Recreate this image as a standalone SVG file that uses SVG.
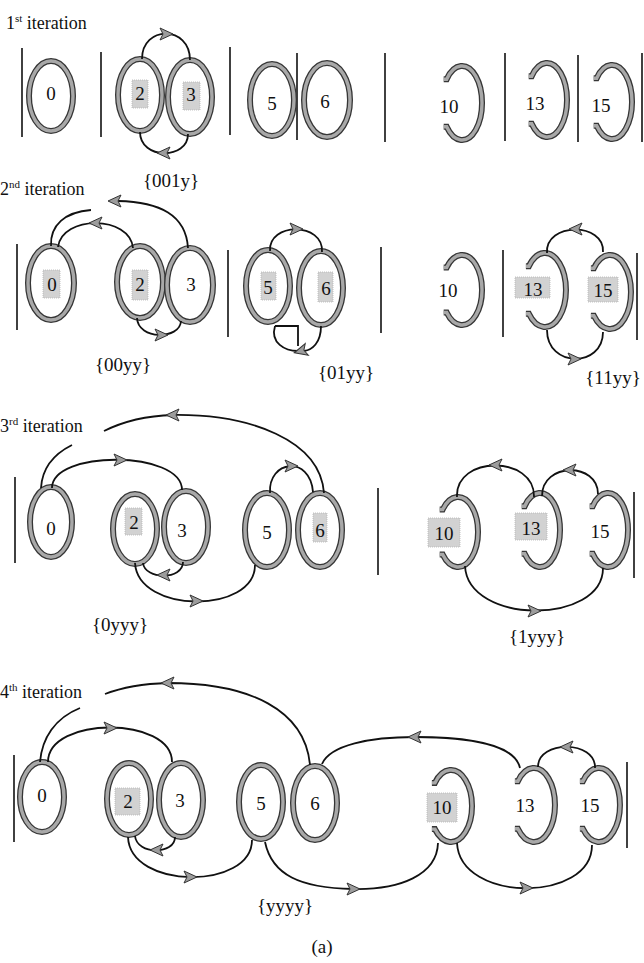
<svg xmlns="http://www.w3.org/2000/svg" xmlns:xlink="http://www.w3.org/1999/xlink" width="644" height="963" viewBox="0 0 644 963">
<style>
  text { font-family: Liberation Serif, Tinos, DejaVu Serif, serif; fill: #111; }
  .title { font-size: 18px; }
  .lab { font-size: 19px; text-anchor: middle; }
  .num { font-size: 19px; text-anchor: middle; }
  .ro { fill: none; stroke: #363636; stroke-width: 6; }
  .ri { fill: none; stroke: #a8a8a8; stroke-width: 3.4; }
  .box { fill: #d2d2d2; stroke: #b4b4b4; stroke-width: 0.8; stroke-dasharray: 1 1; }
  .bar { stroke: #111; stroke-width: 1.6; }
  .c { fill: none; stroke: #111; stroke-width: 1.8; }
</style>
<defs>
  <path id="ah" d="M7,0 L-6,-6 L-3,0 L-6,6 Z" fill="#9c9c9c" stroke="#333" stroke-width="1"/>
</defs>
<rect width="644" height="963" fill="#fff"/>

<!-- ===== 1st iteration ===== -->
<g id="row1">
  <text class="title" x="6" y="29">1<tspan font-size="11" dy="-7">st</tspan><tspan dy="7"> iteration</tspan></text>
  <g id="r1-bars">
    <line class="bar" x1="22" y1="48" x2="22" y2="137"/>
    <line class="bar" x1="101" y1="52" x2="101" y2="137"/>
    <line class="bar" x1="230" y1="47" x2="230" y2="135"/>
    <line class="bar" x1="297" y1="53" x2="297" y2="140"/>
    <line class="bar" x1="385" y1="53" x2="385" y2="142"/>
    <line class="bar" x1="505" y1="53" x2="505" y2="141"/>
    <line class="bar" x1="578" y1="55" x2="578" y2="142"/>
    <line class="bar" x1="642" y1="53" x2="642" y2="142"/>
  </g>
  <g id="r1-n0"><ellipse class="ro" cx="51" cy="96" rx="22" ry="35"/><ellipse class="ri" cx="51" cy="96" rx="22" ry="35"/><text class="num" x="51" y="100">0</text></g>
  <g id="r1-n2"><ellipse class="ro" cx="140" cy="95" rx="22" ry="36"/><ellipse class="ri" cx="140" cy="95" rx="22" ry="36"/><rect class="box" x="132" y="80" width="16" height="28"/><text class="num" x="140" y="100">2</text></g>
  <g id="r1-n3"><ellipse class="ro" cx="190" cy="97" rx="22" ry="37"/><ellipse class="ri" cx="190" cy="97" rx="22" ry="37"/><rect class="box" x="183" y="82" width="17" height="28"/><text class="num" x="191" y="101">3</text></g>
  <g id="r1-n5"><ellipse class="ro" cx="272" cy="100" rx="22" ry="36"/><ellipse class="ri" cx="272" cy="100" rx="22" ry="36"/><text class="num" x="272" y="110">5</text></g>
  <g id="r1-n6"><ellipse class="ro" cx="327" cy="100" rx="23" ry="37"/><ellipse class="ri" cx="327" cy="100" rx="23" ry="37"/><text class="num" x="325" y="108">6</text></g>
  <g id="r1-n10"><path class="ro" d="M443.7,79.2 L446.7,79.2 A20,37 0 1,1 446.7,126.8 L443.7,126.8"/><path class="ri" d="M443.7,79.2 L446.7,79.2 A20,37 0 1,1 446.7,126.8 L443.7,126.8"/><text class="num" x="449" y="113">10</text></g>
  <g id="r1-n13"><path class="ro" d="M528.7,76.2 L531.7,76.2 A20,37 0 1,1 531.7,123.8 L528.7,123.8"/><path class="ri" d="M528.7,76.2 L531.7,76.2 A20,37 0 1,1 531.7,123.8 L528.7,123.8"/><text class="num" x="535" y="110">13</text></g>
  <g id="r1-n15"><path class="ro" d="M593.7,78.2 L596.7,78.2 A20,37 0 1,1 596.7,125.8 L593.7,125.8"/><path class="ri" d="M593.7,78.2 L596.7,78.2 A20,37 0 1,1 596.7,125.8 L593.7,125.8"/><text class="num" x="601" y="112">15</text></g>
  <g id="r1-edges">
    <path class="c" d="M142,59 C142,25 190,25 190,60"/>
    <use xlink:href="#ah" href="#ah" transform="translate(166,34)"/>
    <path class="c" d="M140,132 C140,160 188,160 188,134"/>
    <use xlink:href="#ah" href="#ah" transform="translate(164,153) rotate(180)"/>
  </g>
  <text class="lab" x="171" y="187">{001y}</text>
</g>

<!-- ===== 2nd iteration ===== -->
<g id="row2">
  <text class="title" x="0" y="195">2<tspan font-size="11" dy="-7">nd</tspan><tspan dy="7"> iteration</tspan></text>
  <g id="r2-bars">
    <line class="bar" x1="17" y1="244" x2="17" y2="330"/>
    <line class="bar" x1="228" y1="250" x2="228" y2="337"/>
    <line class="bar" x1="381" y1="247" x2="381" y2="333"/>
    <line class="bar" x1="503" y1="250" x2="503" y2="337"/>
    <line class="bar" x1="637" y1="253" x2="637" y2="340"/>
  </g>
  <g id="r2-n0"><ellipse class="ro" cx="51" cy="283" rx="23" ry="37"/><ellipse class="ri" cx="51" cy="283" rx="23" ry="37"/><rect class="box" x="43" y="270" width="17" height="28"/><text class="num" x="52" y="291">0</text></g>
  <g id="r2-n2"><ellipse class="ro" cx="140" cy="282" rx="23" ry="36"/><ellipse class="ri" cx="140" cy="282" rx="23" ry="36"/><rect class="box" x="132" y="270" width="16" height="30"/><text class="num" x="140" y="291">2</text></g>
  <g id="r2-n3"><ellipse class="ro" cx="190" cy="285" rx="23" ry="37"/><ellipse class="ri" cx="190" cy="285" rx="23" ry="37"/><text class="num" x="191" y="291">3</text></g>
  <g id="r2-n5"><ellipse class="ro" cx="268" cy="286" rx="22" ry="36"/><ellipse class="ri" cx="268" cy="286" rx="22" ry="36"/><rect class="box" x="261" y="272" width="15" height="28"/><text class="num" x="268" y="294">5</text></g>
  <g id="r2-n6"><ellipse class="ro" cx="321" cy="288" rx="22" ry="37"/><ellipse class="ri" cx="321" cy="288" rx="22" ry="37"/><rect class="box" x="318" y="272" width="15" height="30"/><text class="num" x="326" y="295">6</text></g>
  <g id="r2-n10"><path class="ro" d="M443.7,267.5 L446.7,267.5 A20,35 0 1,1 446.7,312.5 L443.7,312.5"/><path class="ri" d="M443.7,267.5 L446.7,267.5 A20,35 0 1,1 446.7,312.5 L443.7,312.5"/><text class="num" x="448" y="297">10</text></g>
  <g id="r2-n13"><path class="ro" d="M525.9,266.2 L528.9,266.2 A21,37 0 1,1 528.9,313.8 L525.9,313.8"/><path class="ri" d="M525.9,266.2 L528.9,266.2 A21,37 0 1,1 528.9,313.8 L525.9,313.8"/><rect class="box" x="515" y="277" width="35" height="21"/><text class="num" x="533" y="296">13</text></g>
  <g id="r2-n15"><path class="ro" d="M590.9,268.2 L593.9,268.2 A21,37 0 1,1 593.9,315.8 L590.9,315.8"/><path class="ri" d="M590.9,268.2 L593.9,268.2 A21,37 0 1,1 593.9,315.8 L590.9,315.8"/><rect class="box" x="588" y="277" width="30" height="25"/><text class="num" x="603" y="297">15</text></g>
  <g id="r2-edges">
    <path class="c" d="M188,248 C186,215 160,202 118,201"/>
    <path class="c" d="M51,246 C50,225 65,212 91,210"/>
    <use xlink:href="#ah" href="#ah" transform="translate(115,201) rotate(180)"/>
    <path class="c" d="M133,248 C130,215 62,215 58,247"/>
    <use xlink:href="#ah" href="#ah" transform="translate(96,223) rotate(180)"/>
    <path class="c" d="M137,318 C138,340 180,340 181,321"/>
    <use xlink:href="#ah" href="#ah" transform="translate(161,335)"/>
    <path class="c" d="M270,251 C268,222 324,222 322,252"/>
    <use xlink:href="#ah" href="#ah" transform="translate(296,229)"/>
    <path class="c" d="M275,326 L298,326 L298,346"/>
    <path class="c" d="M275,326 C270,343 285,351 298,351"/>
    <path class="c" d="M321,326 C321,343 312,350 304,351"/>
    <use xlink:href="#ah" href="#ah" transform="translate(301,351) rotate(165)"/>
    <path class="c" d="M547,253 C545,222 605,222 603,252"/>
    <use xlink:href="#ah" href="#ah" transform="translate(576,229) rotate(180)"/>
    <path class="c" d="M547,330 C547,368 603,368 603,332"/>
    <use xlink:href="#ah" href="#ah" transform="translate(574,359)"/>
  </g>
  <text class="lab" x="123" y="371">{00yy}</text>
  <text class="lab" x="346" y="379">{01yy}</text>
  <text class="lab" x="613" y="384">{11yy}</text>
</g>

<!-- ===== 3rd iteration ===== -->
<g id="row3">
  <text class="title" x="0" y="432">3<tspan font-size="11" dy="-7">rd</tspan><tspan dy="7"> iteration</tspan></text>
  <g id="r3-bars">
    <line class="bar" x1="15" y1="477" x2="15" y2="563"/>
    <line class="bar" x1="378" y1="488" x2="378" y2="575"/>
    <line class="bar" x1="634" y1="492" x2="634" y2="578"/>
  </g>
  <g id="r3-n0"><ellipse class="ro" cx="51" cy="522" rx="21" ry="35"/><ellipse class="ri" cx="51" cy="522" rx="21" ry="35"/><text class="num" x="51" y="535">0</text></g>
  <g id="r3-n2"><ellipse class="ro" cx="135" cy="529" rx="22" ry="35"/><ellipse class="ri" cx="135" cy="529" rx="22" ry="35"/><rect class="box" x="125" y="508" width="17" height="27"/><text class="num" x="134" y="529">2</text></g>
  <g id="r3-n3"><ellipse class="ro" cx="186" cy="527" rx="22" ry="36"/><ellipse class="ri" cx="186" cy="527" rx="22" ry="36"/><text class="num" x="182" y="537">3</text></g>
  <g id="r3-n5"><ellipse class="ro" cx="267" cy="530" rx="22" ry="37"/><ellipse class="ri" cx="267" cy="530" rx="22" ry="37"/><text class="num" x="267" y="539">5</text></g>
  <g id="r3-n6"><ellipse class="ro" cx="320" cy="530" rx="22" ry="37"/><ellipse class="ri" cx="320" cy="530" rx="22" ry="37"/><rect class="box" x="313" y="513" width="14" height="29"/><text class="num" x="320" y="537">6</text></g>
  <g id="r3-n10"><path class="ro" d="M439.7,509.5 L442.7,509.5 A20,35 0 1,1 442.7,554.5 L439.7,554.5"/><path class="ri" d="M439.7,509.5 L442.7,509.5 A20,35 0 1,1 442.7,554.5 L439.7,554.5"/><rect class="box" x="428" y="518" width="32" height="29"/><text class="num" x="444" y="540">10</text></g>
  <g id="r3-n13"><path class="ro" d="M521.7,506.2 L524.7,506.2 A20,37 0 1,1 524.7,553.8 L521.7,553.8"/><path class="ri" d="M521.7,506.2 L524.7,506.2 A20,37 0 1,1 524.7,553.8 L521.7,553.8"/><rect class="box" x="515" y="513" width="32" height="27"/><text class="num" x="531" y="535">13</text></g>
  <g id="r3-n15"><path class="ro" d="M589.7,506.2 L592.7,506.2 A20,37 0 1,1 592.7,553.8 L589.7,553.8"/><path class="ri" d="M589.7,506.2 L592.7,506.2 A20,37 0 1,1 592.7,553.8 L589.7,553.8"/><text class="num" x="600" y="538">15</text></g>
  <g id="r3-edges">
    <path class="c" d="M324,493 C320,440 250,414 173,415 C140,416 118,424 104,431"/>
    <use xlink:href="#ah" href="#ah" transform="translate(173,415) rotate(180)"/>
    <path class="c" d="M72,445 C52,455 42,470 41,488"/>
    <path class="c" d="M52,488 C52,450 182,450 182,490"/>
    <use xlink:href="#ah" href="#ah" transform="translate(120,460)"/>
    <path class="c" d="M270,493 C268,460 310,455 313,492"/>
    <use xlink:href="#ah" href="#ah" transform="translate(291,466)"/>
    <path class="c" d="M143,563 C145,580 183,580 183,562"/>
    <use xlink:href="#ah" href="#ah" transform="translate(164,575) rotate(180)"/>
    <path class="c" d="M135,563 C138,614 255,614 255,565"/>
    <use xlink:href="#ah" href="#ah" transform="translate(196,601)"/>
    <path class="c" d="M457,497 C455,455 535,455 534,497"/>
    <use xlink:href="#ah" href="#ah" transform="translate(496,465) rotate(180)"/>
    <path class="c" d="M542,496 C542,462 598,462 598,494"/>
    <use xlink:href="#ah" href="#ah" transform="translate(570,470) rotate(180)"/>
    <path class="c" d="M465,566 C468,625 603,625 603,568"/>
    <use xlink:href="#ah" href="#ah" transform="translate(534,611)"/>
  </g>
  <text class="lab" x="120" y="631">{0yyy}</text>
  <text class="lab" x="537" y="643">{1yyy}</text>
</g>

<!-- ===== 4th iteration ===== -->
<g id="row4">
  <text class="title" x="0" y="698">4<tspan font-size="11" dy="-7">th</tspan><tspan dy="7"> iteration</tspan></text>
  <g id="r4-bars">
    <line class="bar" x1="14" y1="755" x2="14" y2="842"/>
    <line class="bar" x1="627" y1="762" x2="627" y2="848"/>
  </g>
  <g id="r4-n0"><ellipse class="ro" cx="42" cy="797" rx="22" ry="35"/><ellipse class="ri" cx="42" cy="797" rx="22" ry="35"/><text class="num" x="42" y="802">0</text></g>
  <g id="r4-n2"><ellipse class="ro" cx="129" cy="799" rx="22" ry="36"/><ellipse class="ri" cx="129" cy="799" rx="22" ry="36"/><rect class="box" x="115" y="788" width="25" height="27"/><text class="num" x="128" y="808">2</text></g>
  <g id="r4-n3"><ellipse class="ro" cx="181" cy="800" rx="22" ry="37"/><ellipse class="ri" cx="181" cy="800" rx="22" ry="37"/><text class="num" x="180" y="807">3</text></g>
  <g id="r4-n5"><ellipse class="ro" cx="261" cy="802" rx="22" ry="37"/><ellipse class="ri" cx="261" cy="802" rx="22" ry="37"/><text class="num" x="261" y="810">5</text></g>
  <g id="r4-n6"><ellipse class="ro" cx="315" cy="803" rx="22" ry="37"/><ellipse class="ri" cx="315" cy="803" rx="22" ry="37"/><text class="num" x="315" y="810">6</text></g>
  <g id="r4-n10"><path class="ro" d="M431.9,782.9 L434.9,782.9 A21,36 0 1,1 434.9,829.1 L431.9,829.1"/><path class="ri" d="M431.9,782.9 L434.9,782.9 A21,36 0 1,1 434.9,829.1 L431.9,829.1"/><rect class="box" x="427" y="793" width="30" height="29"/><text class="num" x="442" y="814">10</text></g>
  <g id="r4-n13"><path class="ro" d="M514.9,781.2 L517.9,781.2 A21,37 0 1,1 517.9,828.8 L514.9,828.8"/><path class="ri" d="M514.9,781.2 L517.9,781.2 A21,37 0 1,1 517.9,828.8 L514.9,828.8"/><text class="num" x="525" y="812">13</text></g>
  <g id="r4-n15"><path class="ro" d="M579.9,781.2 L582.9,781.2 A21,37 0 1,1 582.9,828.8 L579.9,828.8"/><path class="ri" d="M579.9,781.2 L582.9,781.2 A21,37 0 1,1 582.9,828.8 L579.9,828.8"/><text class="num" x="590" y="812">15</text></g>
  <g id="r4-edges">
    <path class="c" d="M310,765 C305,710 250,683 168,683 C135,684 118,689 105,694"/>
    <use xlink:href="#ah" href="#ah" transform="translate(168,683) rotate(180)"/>
    <path class="c" d="M80,708 C55,718 42,738 40,762"/>
    <path class="c" d="M48,762 C48,716 172,716 172,762"/>
    <use xlink:href="#ah" href="#ah" transform="translate(110,728)"/>
    <path class="c" d="M135,836 C137,855 175,855 175,837"/>
    <use xlink:href="#ah" href="#ah" transform="translate(157,850) rotate(180)"/>
    <path class="c" d="M128,837 C130,890 252,890 252,840"/>
    <use xlink:href="#ah" href="#ah" transform="translate(190,877)"/>
    <path class="c" d="M265,842 C272,875 300,888 353,889 C400,890 437,875 438,843"/>
    <use xlink:href="#ah" href="#ah" transform="translate(353,889)"/>
    <path class="c" d="M457,843 C460,903 592,903 592,845"/>
    <use xlink:href="#ah" href="#ah" transform="translate(526,888)"/>
    <path class="c" d="M322,764 C330,745 370,737 415,737 C470,737 515,745 520,768"/>
    <use xlink:href="#ah" href="#ah" transform="translate(415,737) rotate(180)"/>
    <path class="c" d="M538,767 C538,740 596,740 595,768"/>
    <use xlink:href="#ah" href="#ah" transform="translate(567,747) rotate(180)"/>
  </g>
  <text class="lab" x="285" y="912">{yyyy}</text>
</g>

<text class="lab" x="322" y="953">(a)</text>
</svg>
